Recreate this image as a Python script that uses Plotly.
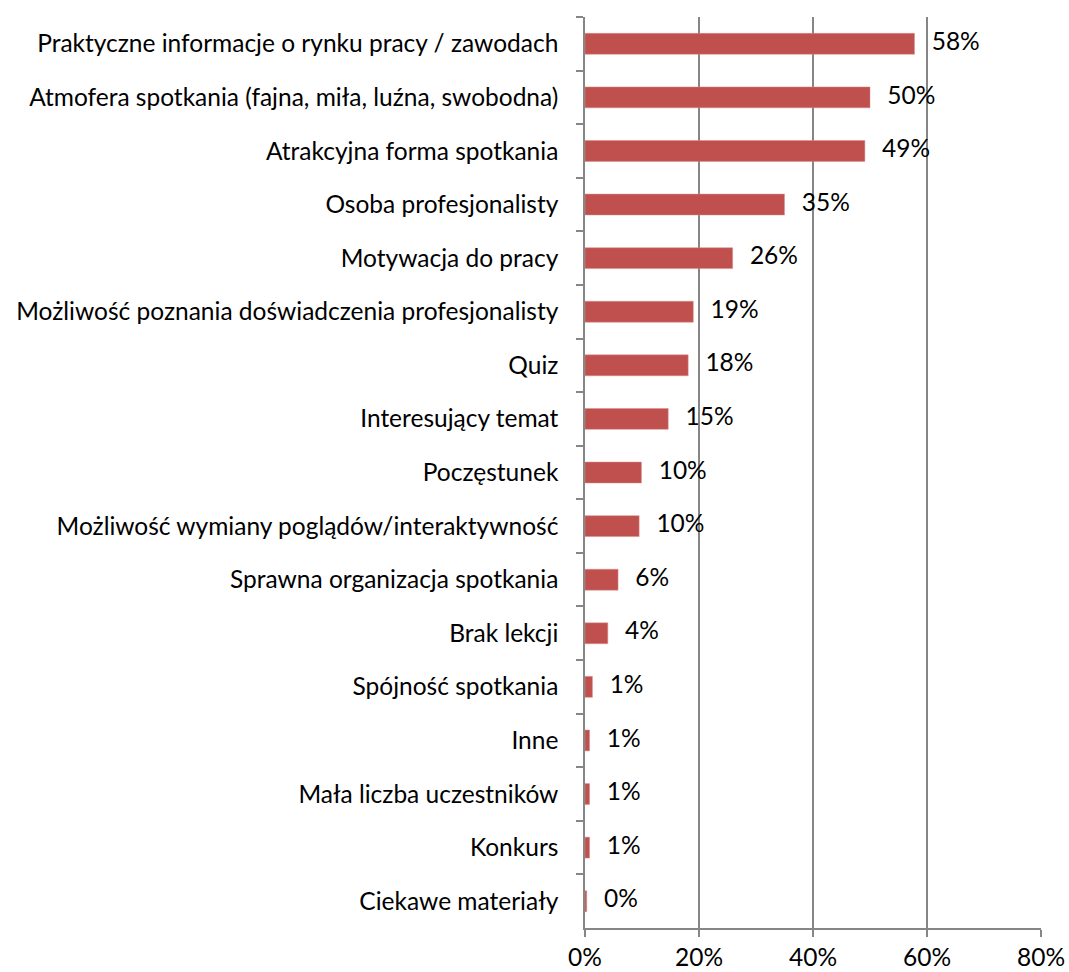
import plotly.graph_objects as go

categories = [
    "Praktyczne informacje o rynku pracy / zawodach",
    "Atmofera spotkania (fajna, miła, luźna, swobodna)",
    "Atrakcyjna forma spotkania",
    "Osoba profesjonalisty",
    "Motywacja do pracy",
    "Możliwość poznania doświadczenia profesjonalisty",
    "Quiz",
    "Interesujący temat",
    "Poczęstunek",
    "Możliwość wymiany poglądów/interaktywność",
    "Sprawna organizacja spotkania",
    "Brak lekcji",
    "Spójność spotkania",
    "Inne",
    "Mała liczba uczestników",
    "Konkurs",
    "Ciekawe materiały",
]
values = [0.578, 0.500, 0.491, 0.350, 0.259, 0.190, 0.181, 0.146, 0.099, 0.095,
          0.058, 0.040, 0.013, 0.008, 0.008, 0.008, 0.003]
x_ticks = [0, 0.2, 0.4, 0.6, 0.8]

FONT = "Lato"
FSIZE = 24.5
GRID = "#868686"

fig = go.Figure()
fig.add_trace(go.Bar(
    x=values, y=categories, orientation="h",
    marker=dict(color="#C0504D", line=dict(color="#D98C8A", width=0.5)),
    width=0.39, hoverinfo="x+y",
))
fig.add_trace(go.Scatter(
    x=values, y=categories, mode="markers+text",
    marker=dict(size=26, opacity=0),
    text=[f"{round(v * 100):.0f}%" for v in values],
    textposition="middle right",
    textfont=dict(family=FONT, size=FSIZE, color="#000000"),
    cliponaxis=False, hoverinfo="skip", showlegend=False,
))

fig.update_layout(
    width=1069, height=972,
    margin=dict(l=585, r=28, t=17, b=44, pad=0),
    paper_bgcolor="white", plot_bgcolor="white",
    showlegend=False,
    font=dict(family=FONT, size=FSIZE, color="#000000"),
)
fig.update_xaxes(
    range=[0, 0.8], tickvals=x_ticks, tickformat=".0%", automargin=False,
    showgrid=True, gridcolor=GRID, gridwidth=1.5,
    showline=True, linecolor=GRID, linewidth=1.5,
    ticks="outside", ticklen=7, tickcolor=GRID, tickwidth=1.5,
    zeroline=False, tickfont=dict(family=FONT, size=FSIZE, color="#000000"),
)
fig.update_yaxes(
    range=[len(categories) - 0.5, -0.5], type="category", automargin=False,
    showgrid=False, showline=True, linecolor=GRID, linewidth=1.5,
    ticks="outside", ticklen=7, tickcolor=GRID, tickwidth=1.5,
    tickson="boundaries", ticklabelstandoff=20,
    tickfont=dict(family=FONT, size=FSIZE, color="#000000"),
)

fig.write_html("out.html", config={"displayModeBar": False},
               post_script="document.body.style.margin='0';")
